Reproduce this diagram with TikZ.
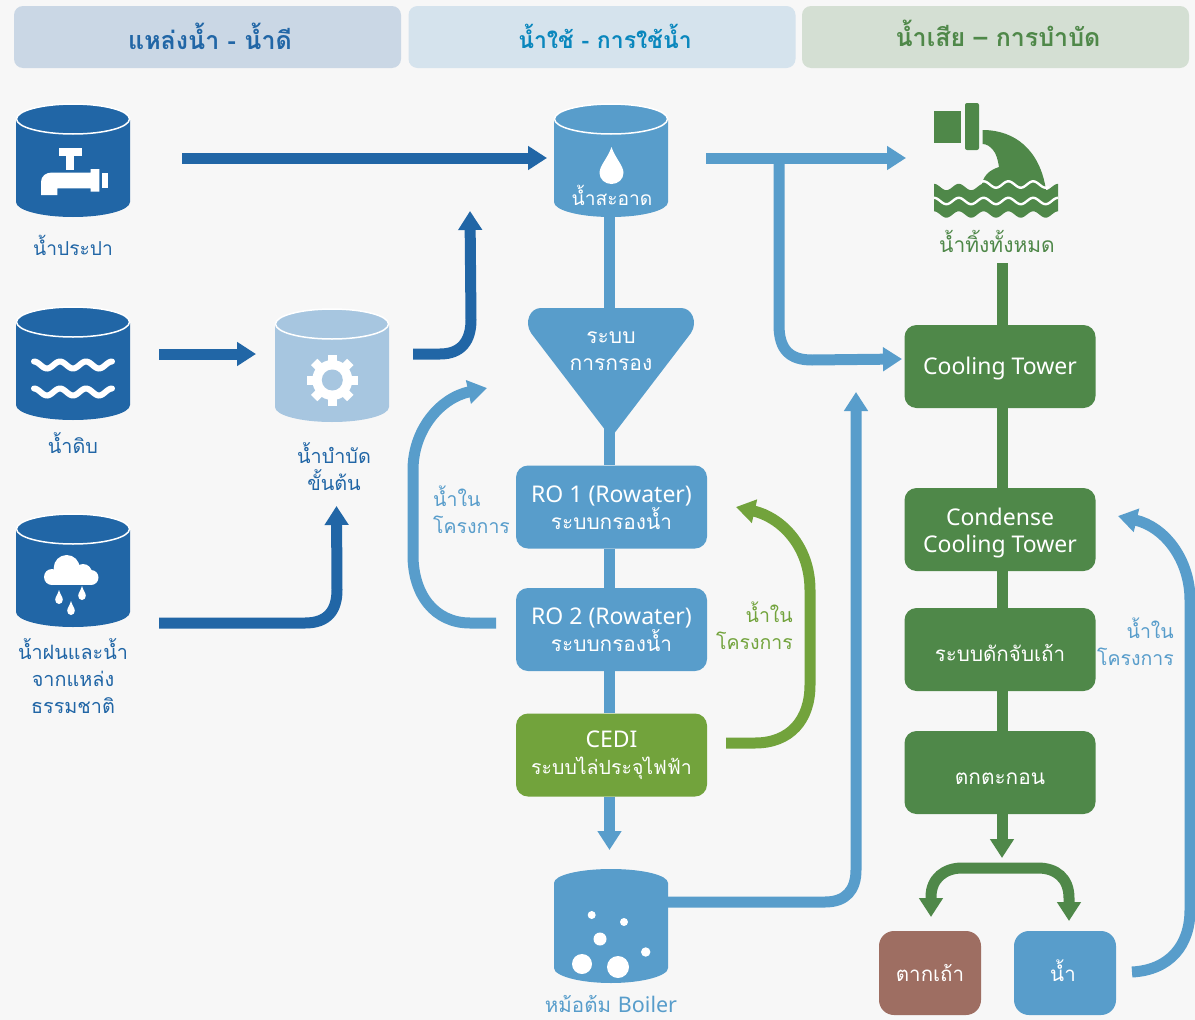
\documentclass[tikz,border=0pt]{standalone}
\usepackage{fontspec}
\usetikzlibrary{arrows.meta,shapes.geometric}
\setmainfont{Noto Sans}
\newfontfamily\thaifont[Script=Thai]{Loma}
\definecolor{bgc}{HTML}{F7F7F7}
\definecolor{dblue}{HTML}{2166A6}
\definecolor{lblue}{HTML}{589DCB}
\definecolor{treatc}{HTML}{A7C6E0}
\definecolor{gr}{HTML}{4F8849}
\definecolor{lgr}{HTML}{72A33C}
\definecolor{brownc}{HTML}{9E6E62}
\definecolor{hd1}{HTML}{CAD7E5}
\definecolor{hd2}{HTML}{D5E3ED}
\definecolor{hd3}{HTML}{D4DFD3}
\definecolor{hdt}{HTML}{0A87BD}
\newcommand{\thx}[2]{{\thaifont\fontsize{#1}{27}\selectfont #2}}
\newcommand{\low}[2]{\raisebox{-#1pt}[0pt][0pt]{#2}}
\newcommand{\tankbody}[4]{% cx, top, colour, name
  \fill[#3] ({#1-57},{#2+15}) -- ({#1-57},{#2+97}) .. controls ({#1-57},{#2+105.3}) and ({#1-31.5},{#2+112}) .. ({#1},{#2+112}) .. controls ({#1+31.5},{#2+112}) and ({#1+57},{#2+105.3}) .. ({#1+57},{#2+97}) -- ({#1+57},{#2+15}) -- cycle;
  \node[tankbox] (#4) at (#1,{#2+56}) {};
  \draw[#3,fill=#3,draw=white,line width=1.5pt] (#1,{#2+14}) ellipse [x radius=56.5,y radius=15];
}
\newcommand{\dropicon}[4]{% x, tip y, half width, height
  \fill[white,shift={(#1,#2)},x=#3pt,y=-#4pt] (0,0) .. controls (.3,.3) and (1,.5) .. (1,.7) .. controls (1,.87) and (.55,1) .. (0,1) .. controls (-.55,1) and (-1,.87) .. (-1,.7) .. controls (-1,.5) and (-.3,.3) .. (0,0) -- cycle;
}
\tikzset{
  x=1pt,y=-1pt,
  tankbox/.style={inner sep=0pt,minimum width=114pt,minimum height=112pt},
  headbox/.style={rounded corners=9pt,inner sep=0pt,minimum width=387pt,minimum height=62pt,anchor=center},
  headtext/.style={font=\thaifont\bfseries\fontsize{25}{30}\selectfont},
  procbox/.style={rounded corners=12pt,inner sep=0pt,minimum width=191pt,minimum height=83pt,text=white,align=center,font=\fontsize{23}{27}\selectfont},
  smallbox/.style={rounded corners=15pt,inner sep=0pt,minimum width=102pt,minimum height=84pt,text=white,align=center,font=\thaifont\fontsize{20.5}{27}\selectfont},
  lab/.style={inner sep=0pt,align=center,font=\thaifont\fontsize{19.8}{27}\selectfont},
  flow/.style={line width=11pt,-{Triangle[length=19pt,width=23pt]}},
  flowplain/.style={line width=11pt},
  wavy/.style={white,line width=6pt,line cap=round},
}
\begin{document}
\begin{tikzpicture}
\useasboundingbox (0,0) rectangle (1195,1020);
\fill[bgc] (0,0) rectangle (1195,1020);
% headers
\node[headbox,fill=hd1] (h1) at (207.5,37) {};
\node[headbox,fill=hd2] (h2) at (602,37) {};
\node[headbox,fill=hd3] (h3) at (995.5,37) {};
\node[headtext,text=dblue] (h1t) at (210,36) {แหล่งน้ำ - น้ำดี};
\node[headtext,text=hdt,font=\thaifont\bfseries\fontsize{23}{30}\selectfont] (h2t) at (605,36) {น้ำใช้ - การใช้น้ำ};
\node[headtext,text=gr] (h3t) at (998,33) {น้ำเสีย – การบำบัด};
% tanks
\tankbody{73}{105}{dblue}{tap}
\tankbody{73}{308}{dblue}{raw}
\tankbody{73}{515}{dblue}{rain}
\tankbody{332}{310}{treatc}{treat}
\tankbody{611}{105}{lblue}{clean}
% boiler tank, no rim
\fill[lblue] (554,883) .. controls (554,875) and (580,869) .. (611,869) .. controls (642,869) and (668,875) .. (668,883) -- (668,968) .. controls (668,976) and (642,983) .. (611,983) .. controls (580,983) and (554,976) .. (554,968) -- cycle;
\node[tankbox] (boiler) at (611,926) {};
% tap icon
\fill[white] (59,148) rectangle (82,156);
\fill[white] (66,156) rectangle (74,170);
\fill[white] (41,195) -- (41,182) .. controls (41,176) and (46,172.5) .. (52,172.5) -- (90.7,172.5) -- (90.7,169) -- (99.3,169) -- (99.3,191.7) -- (90.7,191.7) -- (90.7,188.3) -- (57.3,188.3) -- (57.3,195) -- cycle;
\fill[white] (102,172.7) rectangle (108,188);
% raw-water waves
\draw[wavy] plot[domain=34:112,samples=60,smooth] (\x,{365-3.5*cos((\x-34)*13.846)});
\draw[wavy] plot[domain=34:112,samples=60,smooth] (\x,{392-3.5*cos((\x-34)*13.846)});
% gear
\fill[white] (332.3,380) circle [radius=20pt];
\foreach \a in {0,45,...,315}
  \fill[white,shift={(332.3,380)},rotate=\a] (-4.5,-25.5) rectangle (4.5,-15);
\fill[treatc] (332.3,380) circle [radius=10.5pt];
% clean drop
\dropicon{611.5}{147}{12}{37}
% rain cloud
\fill[white] (66.7,568) circle [radius=13pt];
\fill[white] (52,577) circle [radius=8pt];
\fill[white] (83,573) circle [radius=9pt];
\fill[white] (91,577.5) circle [radius=7.5pt];
\fill[white] (52,572) rectangle (91,585);
\dropicon{59}{590}{3.8}{14}
\dropicon{82}{586}{3.8}{14}
\dropicon{71}{601}{3.8}{14}
% bubbles
\fill[white] (591.7,915) circle [radius=4pt];
\fill[white] (624,922) circle [radius=4pt];
\fill[white] (600,939) circle [radius=6.5pt];
\fill[white] (645.7,952) circle [radius=4.7pt];
\fill[white] (582,964) circle [radius=10pt];
\fill[white] (618,967) circle [radius=11pt];
% sewer
\fill[gr] (934,111) rectangle (961,143);
\fill[gr,rounded corners=2pt] (965,103) rectangle (979,150);
\fill[gr] (982.5,130) .. controls (1015,130) and (1040,150) .. (1046,190) -- (981,190) .. controls (982,175) and (990,170) .. (999,167) .. controls (998,160) and (996,153) .. (993,150) .. controls (990,146) and (986,144) .. (982.5,144) -- cycle;
\fill[gr] plot[domain=934:1058,samples=80,smooth] (\x,{187-3.2*cos((\x-934)*14.516)}) -- plot[domain=1058:934,samples=80,smooth] (\x,{214.5-3.2*cos((\x-934)*14.516)}) -- cycle;
\draw[white,line width=2.4pt] plot[domain=934:1058,samples=80,smooth] (\x,{201-3.2*cos((\x-934)*14.516)});
\draw[white,line width=2.4pt] plot[domain=981:1049,samples=50,smooth] (\x,{184.5-3.2*cos((\x-934)*14.516)});
\coordinate (sewerout) at (1002,263);
% filter funnel
\fill[lblue] (541,308) -- (681,308) .. controls (692,308) and (698,322) .. (691,333) -- (613,435) .. controls (612,437) and (610,437) .. (609,435) -- (531,333) .. controls (524,322) and (530,308) .. (541,308) -- cycle;
\coordinate (filtertop) at (609.5,308);
\coordinate (filterbot) at (609.5,428);
% process boxes
\node[procbox,fill=lblue] (ro1) at (611.5,507) {\rule{0pt}{18pt}RO 1 (Rowater)\\\thx{20.8}{ระบบกรองน้ำ}};
\node[procbox,fill=lblue] (ro2) at (611.5,629.5) {\rule{0pt}{18pt}RO 2 (Rowater)\\\thx{20.8}{ระบบกรองน้ำ}};
\node[procbox,fill=lgr] (cedi) at (611.5,755) {CEDI\\\thx{19.5}{ระบบไล่ประจุไฟฟ้า}};
\node[procbox,fill=gr] (ct) at (1000,366.5) {\low{8}{Cooling Tower}};
\node[procbox,fill=gr] (cct) at (1000,529.5) {\rule{0pt}{25pt}Condense\\Cooling Tower};
\node[procbox,fill=gr] (ash) at (1000,649.5) {\low{11.5}{\thx{20.6}{ระบบดักจับเถ้า}}};
\node[procbox,fill=gr] (sed) at (1000,772.5) {\low{11.5}{\thx{20.8}{ตกตะกอน}}};
\node[smallbox,fill=brownc] (dry) at (930,973) {\low{8}{ตากเถ้า}};
\node[smallbox,fill=lblue] (water) at (1065,973) {\low{8}{น้ำ\kern4pt}};
% free ends of connectors
\coordinate (tapout) at (182,158);
\coordinate (cleanin) at (547,158);
\coordinate (rawout) at (159,354);
\coordinate (treatin) at (256,354);
\coordinate (rainout) at (159,623);
\coordinate (treatlow) at (336.5,506);
\coordinate (treatout) at (413,354);
\coordinate (cleanlow) at (470,211);
\coordinate (cleanout) at (706,158);
\coordinate (wastein) at (906,158);
\coordinate (branch) at (779,158);
\coordinate (ctin) at (902,359);
\coordinate (ro2out) at (496,623);
\coordinate (filterin) at (487,388);
\coordinate (cediout) at (726,743);
\coordinate (ro1in) at (736,507);
\coordinate (boilerout) at (668,902);
\coordinate (ctlow) at (856,392);
\coordinate (waterout) at (1132,972);
\coordinate (cctin) at (1118,516);
\coordinate (boilertip) at (609.5,850);
\coordinate (splitin) at (1002,858);
\coordinate (tipl) at (931,917);
\coordinate (tipr) at (1069,921);
% connectors
\draw[flow,dblue] (tapout) -- (cleanin);
\draw[flow,dblue] (rawout) -- (treatin);
\draw[flow,dblue] (rainout) -- (305,623) .. controls (328,623) and (337,610) .. (337,590) -- (treatlow);
\draw[flow,dblue] (treatout) -- (440,354) .. controls (462,354) and (471,340) .. (471,320) -- (cleanlow);
\draw[flow,lblue] (cleanout) -- (wastein);
\draw[flow,lblue] (branch) -- (779,325) .. controls (779,350) and (790,360) .. (812,360) -- (ctin);
\draw[flowplain,lblue] ([yshift=3pt]clean.south -| filtertop) -- (filtertop);
\draw[flowplain,lblue] (filterbot) -- (filterbot |- ro1.north);
\draw[flowplain,lblue] (filterbot |- ro1.south) -- (filterbot |- ro2.north);
\draw[flowplain,lblue] (filterbot |- ro2.south) -- (filterbot |- cedi.north);
\draw[flow,lblue] (filterbot |- cedi.south) -- (boilertip);
\draw[flow,lblue] (ro2out) -- (470,623) .. controls (435,623) and (413,595) .. (413,555) -- (413,470) .. controls (413,430) and (440,398) .. (filterin);
\draw[flow,lgr] (cediout) -- (755,743) .. controls (790,743) and (810,720) .. (810,685) -- (810,590) .. controls (810,545) and (780,517) .. (ro1in);
\draw[flow,lblue] (boilerout) -- (825,902) .. controls (846,902) and (856,890) .. (856,870) -- (ctlow);
\draw[flow,lblue] (waterout) .. controls (1170,970) and (1190,945) .. (1190,910) -- (1190,600) .. controls (1190,560) and (1165,527) .. (cctin);
\draw[flowplain,gr] (sewerout) -- ([xshift=2pt]ct.north);
\draw[flowplain,gr] ([xshift=2pt]ct.south) -- ([xshift=2pt]cct.north);
\draw[flowplain,gr] ([xshift=2pt]cct.south) -- ([xshift=2pt]ash.north);
\draw[flowplain,gr] ([xshift=2pt]ash.south) -- ([xshift=2pt]sed.north);
\draw[flow,gr] ([xshift=2pt]sed.south) -- (splitin);
\draw[line width=11pt,gr,{Triangle[length=19pt,width=23pt]}-{Triangle[length=19pt,width=23pt]}] (tipl) -- (931,897) .. controls (931,878) and (945,868) .. (962,868) -- (1038,868) .. controls (1056,868) and (1069,878) .. (1069,898) -- (tipr);
% labels
\node[lab,text=dblue,font=\thaifont\fontsize{19.2}{27}\selectfont] (ltap) at (73,245) {น้ำประปา};
\node[lab,text=dblue] (lraw) at (73,443) {น้ำดิบ};
\node[lab,text=dblue] (lrain) at (73,676) {น้ำฝนและน้ำ\\จากแหล่ง\\ธรรมชาติ};
\node[lab,text=dblue] (ltreat) at (334,467) {น้ำบำบัด\\ขั้นต้น};
\node[lab,text=white,font=\thaifont\fontsize{19.2}{27}\selectfont] (lclean) at (612,195) {น้ำสะอาด};
\node[lab,text=gr,font=\thaifont\fontsize{21}{27}\selectfont] (lsewer) at (997,241) {น้ำทิ้งทั้งหมด};
\node[lab,text=white,font=\thaifont\fontsize{21}{27}\selectfont] (lfilter) at (611,351) {ระบบ\\การกรอง};
\node[lab,text=lblue,align=left,anchor=west,font=\thaifont\fontsize{19.5}{27}\selectfont] (lin1) at (433,510) {น้ำใน\\โครงการ};
\node[lab,text=lgr,align=right,anchor=east,font=\thaifont\fontsize{19.5}{27}\selectfont] (lin2) at (793,626) {น้ำใน\\โครงการ};
\node[lab,text=lblue,align=right,anchor=east,font=\thaifont\fontsize{19.5}{27}\selectfont] (lin3) at (1174,642) {น้ำใน\\โครงการ};
\node[lab,text=lblue,font=\thaifont\fontsize{20.5}{27}\selectfont] (lboiler) at (611,1004) {หม้อต้ม {\fontspec{Noto Sans}\fontsize{21.5}{27}\selectfont Boiler}};
\end{tikzpicture}
\end{document}
